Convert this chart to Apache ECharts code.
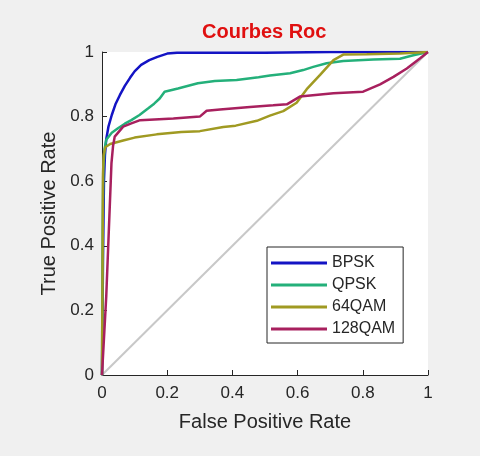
<!DOCTYPE html>
<html>
<head>
<meta charset="utf-8">
<script src="https://cdn.jsdelivr.net/npm/echarts@6/dist/echarts.min.js"></script>
<style>
  html, body { margin: 0; padding: 0; background: #f0f0f0; }
  #chart { width: 480px; height: 456px; }
</style>
</head>
<body>
<div id="chart"></div>
<script>
// ROC curves: [false positive rate, true positive rate]
const seriesNames = ['BPSK', 'QPSK', '64QAM', '128QAM'];

const bpskRoc = [[0,0],[0.003,0.35],[0.006,0.6],[0.009,0.68],[0.013,0.73],[0.02,0.77],[0.03,0.805],
  [0.042,0.84],[0.055,0.867],[0.07,0.895],[0.086,0.92],[0.1,0.94],[0.12,0.96],[0.145,0.975],
  [0.17,0.985],[0.2,0.995],[0.23,0.998],[0.5,0.998],[0.7,1],[1,1]];

const qpskRoc = [[0,0],[0.002,0.45],[0.004,0.64],[0.008,0.7],[0.013,0.728],[0.03,0.75],[0.049,0.764],
  [0.07,0.778],[0.09,0.789],[0.115,0.805],[0.141,0.825],[0.16,0.84],[0.177,0.856],[0.192,0.877],
  [0.233,0.887],[0.294,0.903],[0.346,0.91],[0.413,0.913],[0.48,0.922],[0.515,0.927],[0.577,0.934],
  [0.617,0.944],[0.648,0.954],[0.689,0.965],[0.74,0.972],[0.832,0.977],[0.914,0.979],[0.955,0.99],[1,1]];

const qam64Roc = [[0,0],[0.002,0.4],[0.003,0.62],[0.005,0.68],[0.01,0.705],[0.025,0.715],[0.065,0.726],
  [0.1,0.735],[0.168,0.745],[0.243,0.752],[0.3,0.755],[0.372,0.768],[0.41,0.772],[0.475,0.787],
  [0.515,0.803],[0.556,0.817],[0.597,0.843],[0.628,0.885],[0.669,0.929],[0.71,0.975],[0.74,0.992],
  [0.812,0.993],[0.914,0.995],[1,1]];

const qam128Roc = [[0,0],[0.013,0.243],[0.021,0.449],[0.029,0.655],[0.034,0.71],[0.039,0.738],
  [0.065,0.769],[0.09,0.779],[0.117,0.789],[0.219,0.794],[0.3,0.8],[0.321,0.818],[0.362,0.822],
  [0.454,0.83],[0.525,0.835],[0.567,0.838],[0.607,0.862],[0.71,0.872],[0.801,0.877],[0.853,0.9],
  [0.894,0.923],[0.935,0.949],[0.975,0.98],[1,1]];

// chance line
const chanceLine = [[0,0],[1,1]];

const curveData = [bpskRoc, qpskRoc, qam64Roc, qam128Roc];
const curveColors = ['#1414c4', '#24b07a', '#a09a22', '#a8205e'];

const axisColor = '#262626';
const fontFamily = '"Liberation Sans", Arial, Helvetica, sans-serif';

const chart = echarts.init(document.getElementById('chart'), null, { renderer: 'canvas' });

const series = [{
  name: 'chance',
  type: 'line',
  data: chanceLine,
  symbol: 'none',
  silent: true,
  lineStyle: { color: '#c8c8c8', width: 2 }
}].concat(seriesNames.map((name, i) => ({
  name: name,
  type: 'line',
  data: curveData[i],
  symbol: 'none',
  color: curveColors[i],
  lineStyle: { color: curveColors[i], width: 2.5 }
})));

chart.setOption({
  animation: false,
  backgroundColor: '#f0f0f0',
  title: {
    text: 'Courbes Roc',
    left: 202,
    top: 22,
    padding: 0,
    textStyle: { color: '#e01010', fontSize: 20, fontWeight: 'bold', fontFamily: fontFamily }
  },
  grid: {
    left: 102, right: 52, top: 52, bottom: 81,
    show: true, backgroundColor: '#ffffff', borderWidth: 0
  },
  legend: {
    data: seriesNames,
    orient: 'vertical',
    left: 267,
    top: 247,
    icon: 'rect',
    itemWidth: 56,
    itemHeight: 3,
    itemGap: 6,
    padding: [8, 8, 6, 4],
    backgroundColor: '#ffffff',
    borderColor: '#262626',
    borderWidth: 1,
    borderRadius: 0,
    textStyle: { color: axisColor, fontSize: 16, fontFamily: fontFamily }
  },
  xAxis: {
    type: 'value',
    min: 0, max: 1, interval: 0.2,
    name: 'False Positive Rate',
    nameLocation: 'middle',
    nameGap: 37,
    nameTextStyle: { color: axisColor, fontSize: 20, fontFamily: fontFamily },
    axisLine: { show: true, onZero: false, lineStyle: { color: axisColor, width: 1 } },
    axisTick: { show: true, inside: true, length: 5, lineStyle: { color: axisColor } },
    axisLabel: { color: axisColor, fontSize: 17, margin: 10, fontFamily: fontFamily },
    splitLine: { show: false }
  },
  yAxis: {
    type: 'value',
    min: 0, max: 1, interval: 0.2,
    name: 'True Positive Rate',
    nameLocation: 'middle',
    nameGap: 42,
    nameTextStyle: { color: axisColor, fontSize: 20, fontFamily: fontFamily },
    axisLine: { show: true, onZero: false, lineStyle: { color: axisColor, width: 1 } },
    axisTick: { show: true, inside: true, length: 5, lineStyle: { color: axisColor } },
    axisLabel: { color: axisColor, fontSize: 17, margin: 8, fontFamily: fontFamily },
    splitLine: { show: false }
  },
  series: series
});
</script>
</body>
</html>
